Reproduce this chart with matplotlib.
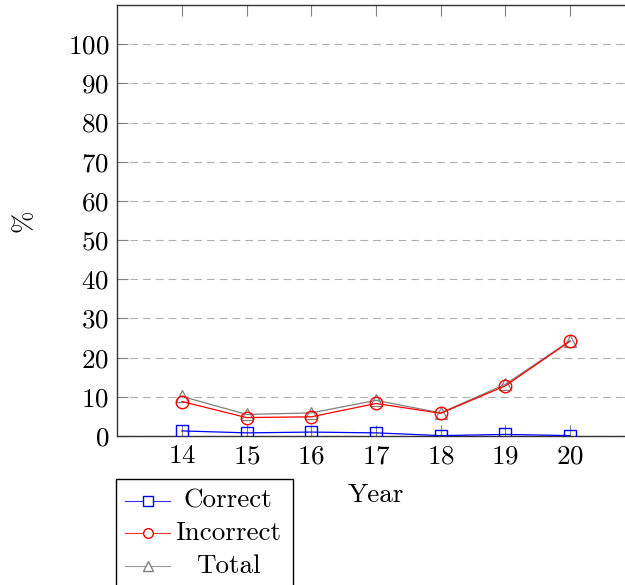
import matplotlib
matplotlib.use('Agg')
import matplotlib.pyplot as plt
from matplotlib.lines import Line2D
from matplotlib.patches import Rectangle

plt.rcParams['font.family'] = ['cmr10', 'DejaVu Serif']
plt.rcParams['mathtext.fontset'] = 'cm'
plt.rcParams['axes.formatter.use_mathtext'] = True

# data
years = [14, 15, 16, 17, 18, 19, 20]
correct = [1.3, 0.8, 1.0, 0.8, 0.1, 0.4, 0.1]
incorrect = [8.8, 4.7, 4.9, 8.3, 5.8, 12.8, 24.2]
total = [10.1, 5.5, 5.9, 9.1, 5.9, 13.2, 24.3]
labels = ['Correct', 'Incorrect', 'Total']
y_ticks = [0, 10, 20, 30, 40, 50, 60, 70, 80, 90, 100]

W, H = 625, 585
fig = plt.figure(figsize=(W / 100, H / 100), dpi=100)
ax = fig.add_axes([117.3 / W, 149 / H, 517.4 / W, 431 / H])

fs = 19.5
ax.plot(years, correct, color='blue', lw=0.9, marker='s', ms=8, mfc='none', mew=1.0, zorder=3)
ax.plot(years, incorrect, color='red', lw=0.9, marker='o', ms=9, mfc='none', mew=1.0, zorder=3)
ax.plot(years, total, color='gray', lw=0.9, marker='^', ms=8, mfc='none', mew=0.9, zorder=2)

ax.set_xlim(13, 21)
ax.set_ylim(0, 110)
ax.set_xticks(years)
ax.set_yticks(y_ticks)
ax.tick_params(direction='in', length=8, width=0.8, color='#808080', labelsize=fs,
               top=True, right=True, pad=6)
ax.grid(axis='y', color='#b0b0b0', ls=(0, (7, 4.5)), lw=0.8)
ax.set_axisbelow(True)
for s in ax.spines.values():
    s.set_color('#333333')
    s.set_linewidth(1.0)

ax.set_xlabel('Year', fontsize=fs, labelpad=11)
ax.set_ylabel('%', fontsize=fs)
ax.yaxis.set_label_coords(-0.157, 0.5)

# legend drawn by hand so the text can be centred like pgfplots
def fx(px):
    return px / W

def fy(py):
    return 1 - py / H

fig.add_artist(Rectangle((fx(116), fy(600)), fx(293) - fx(116), fy(479) - fy(600),
                         transform=fig.transFigure, fill=False, ec='black', lw=1.0))
styles = [('blue', 's'), ('red', 'o'), ('gray', '^')]
rows = [501, 533, 566]
for (c, m), lab, ry in zip(styles, labels, rows):
    fig.add_artist(Line2D([fx(125), fx(170)], [fy(ry), fy(ry)], transform=fig.transFigure,
                          color=c, lw=0.8, alpha=0.8))
    fig.add_artist(Line2D([fx(147.5)], [fy(ry)], transform=fig.transFigure, color=c,
                          marker=m, ms=7, mfc='white', mew=1.0, ls='none'))
    fig.text(fx(228), fy(ry), lab, fontsize=fs, ha='center', va='center')

fig.savefig('out.png', dpi=100)
